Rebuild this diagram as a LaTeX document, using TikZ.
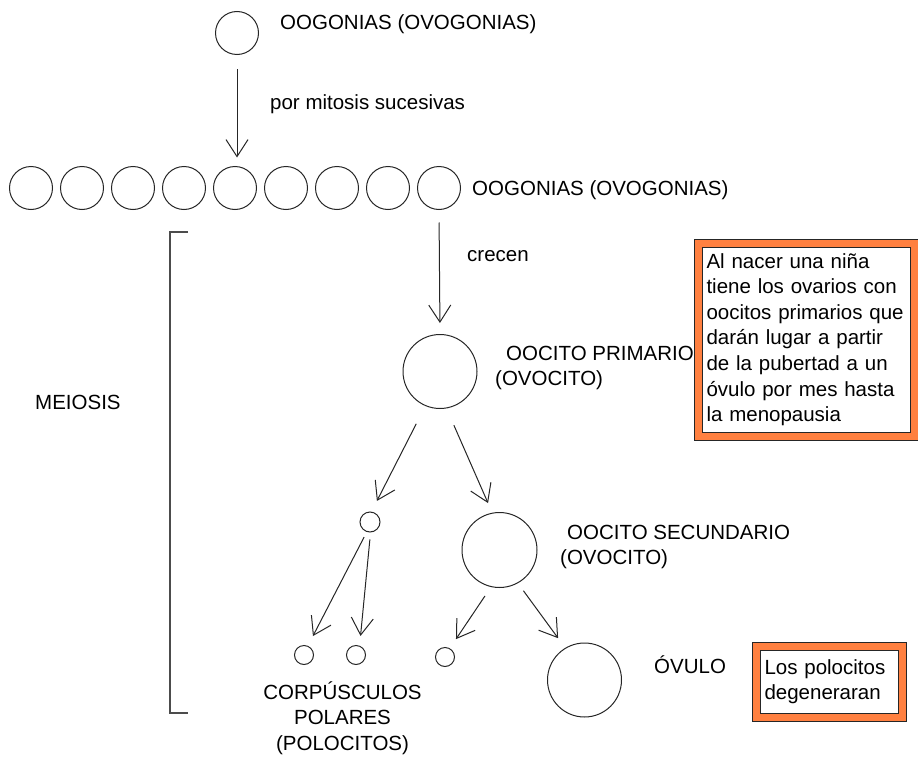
\documentclass[tikz,border=0pt]{standalone}
\usepackage{fontspec}
\setmainfont{Liberation Sans}
\usetikzlibrary{arrows.meta}
\definecolor{naranja}{RGB}{255,128,64}
\begin{document}
\begin{tikzpicture}[x=1pt,y=-1pt,
   celula/.style={draw=black!85,line width=1pt,circle,inner sep=0pt},
   flecha/.style={black!85,line width=1pt,-{Straight Barb[length=17pt,width=22pt]}},
   rotulo/.style={inner sep=0pt,font=\fontsize{20.5}{25.6}\selectfont},
   nota/.style={draw=black!85,line width=1pt,double=naranja,double distance=7pt,fill=white,
      anchor=north west,align=left,inner xsep=8.5pt,font=\fontsize{20.5}{25.6}\selectfont}]
   \useasboundingbox (0,0) rectangle (918,760);
   % ovogonia de partida
   \node [celula,minimum size=43pt] (og) at (237,33) {};
   \node [rotulo,anchor=base west] (t-og) at (280,30) {OOGONIAS (OVOGONIAS)};
   % fila de ovogonias
   \foreach \i in {1,...,9}
      \node [celula,minimum size=43pt] (o\i) at (31+51*\i-51,188) {};
   \node [rotulo,anchor=base west] (t-fila) at (472,195) {OOGONIAS (OVOGONIAS)};
   \draw [flecha,shorten <=14.5pt,shorten >=8.5pt] (og.south) -- (og.south |- o5.north);
   \node [rotulo,anchor=base west] (t-mitosis) at (270,109) {por mitosis sucesivas};
   % meiosis
   \draw [black!70,line width=1.5pt] (188,232) -- (170,232) -- (170,713) -- (188,713);
   \node [rotulo,anchor=base west] (t-meiosis) at (35,409) {MEIOSIS};
   \node [celula,minimum size=74pt] (pri) at (440,371.5) {};
   \draw [flecha,shorten <=12.5pt,shorten >=11pt] (o9.south) -- (pri.north);
   \node [rotulo,anchor=base west] (t-crecen) at (467,261) {crecen};
   \node [rotulo,anchor=north west,align=left] (t-pri) at (495,342.1)
      {\strut\hspace*{11pt}OOCITO PRIMARIO\\(OVOCITO)};
   \node [nota,text width=199pt,inner ysep=7.15pt] (nota1) at (697.5,242.5)
      {\strut Al nacer una niña\\tiene los ovarios con\\oocitos primarios que\\darán lugar a partir\\de la pubertad a un\\óvulo por mes hasta\\la menopausia\strut};
   \node [celula,minimum size=20pt] (pc1) at (370,522) {};
   \node [celula,minimum size=75pt] (sec) at (499.5,550) {};
   \draw [flecha,shorten <=20pt,shorten >=12pt] (pri.247) -- (pc1.82);
   \draw [flecha,shorten <=18.4pt,shorten >=10.5pt] (pri.280) -- (sec.101);
   \node [rotulo,anchor=north west,align=left] (t-sec) at (560,521.1)
      {\strut\hspace*{7pt}OOCITO SECUNDARIO\\(OVOCITO)};
   % corpusculos polares y ovulo
   \node [celula,minimum size=19pt] (pc2) at (304,655) {};
   \node [celula,minimum size=19pt] (pc3) at (356,655) {};
   \node [celula,minimum size=19pt] (pc4) at (445,657) {};
   \node [celula,minimum size=74pt] (ovulo) at (584.5,680) {};
   \draw [flecha,shorten <=5.8pt,shorten >=11pt] (pc1.252) -- (pc2.67);
   \draw [flecha,shorten <=7pt,shorten >=9.8pt] (pc1.273) -- (pc3.69);
   \draw [flecha,shorten <=10.7pt,shorten >=11pt] (sec.257) -- (pc4.61);
   \draw [flecha,shorten <=9.3pt,shorten >=12pt] (sec.299) -- (ovulo.121);
   \node [rotulo,anchor=base west] (t-ovulo) at (654,673) {ÓVULO};
   \node [rotulo,anchor=north,align=center] (t-polares) at (342.5,681.1)
      {\strut CORPÚSCULOS\\POLARES\\(POLOCITOS)};
   \node [nota,text width=130pt,inner xsep=8pt,inner ysep=9.65pt] (nota2) at (756,646)
      {\strut Los polocitos\\degeneraran\strut};
\end{tikzpicture}
\end{document}
